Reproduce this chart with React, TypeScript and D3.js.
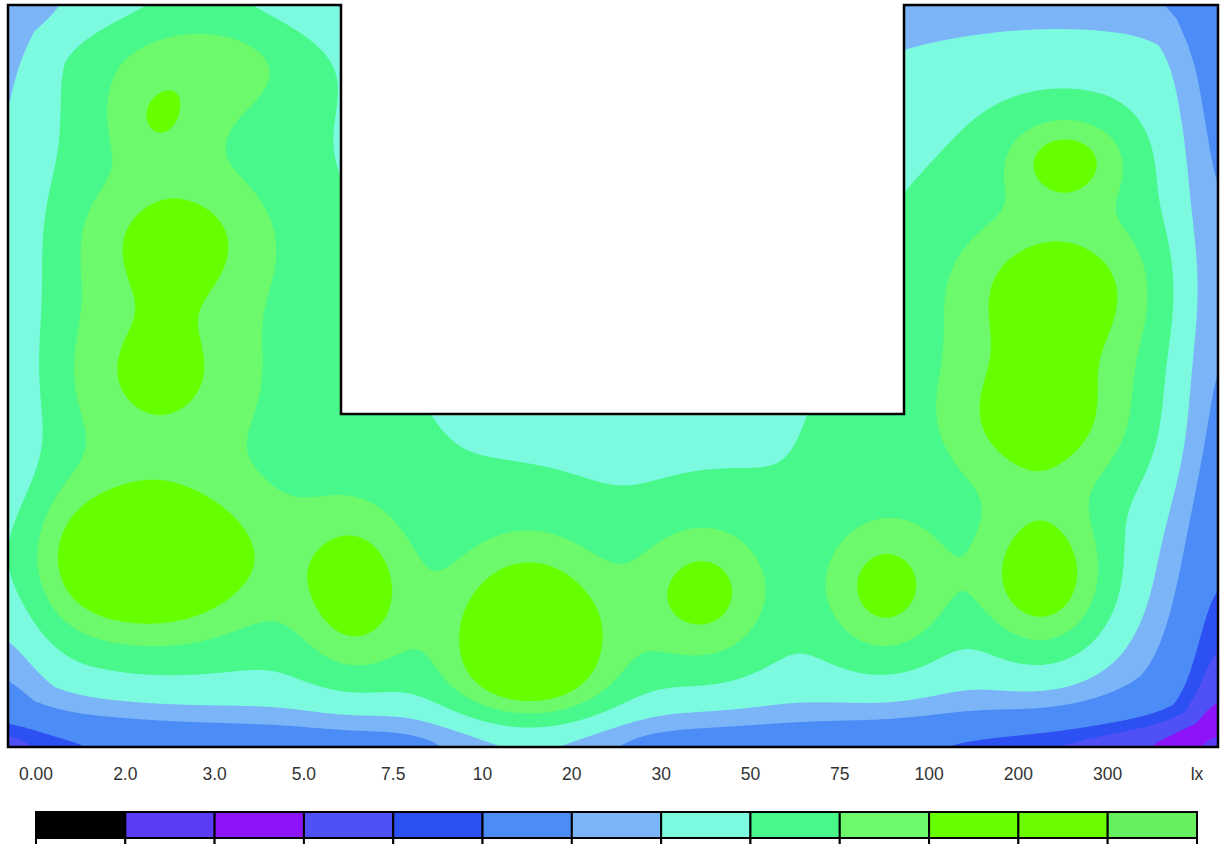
import React, { useMemo } from "react";
import * as d3 from "d3";

// ---- room geometry (metres) ----
const roomWidth = 24.2;
const roomDepth = 14.84;
const cutX0 = 6.66;
const cutX1 = 17.92;
const cutY1 = 8.18;

// ---- luminaires: position (m), direct peak (lx), spread (m), indirect share ----
const lumX = [3.9, 2.95, 3.35, 2.95, 2.6, 6.95, 10.44, 13.9, 17.58, 20.7, 21.0, 20.65, 21.16];
const lumY = [0.8, 2.35, 4.7, 7.4, 11.15, 11.75, 12.9, 11.78, 11.7, 11.5, 5.75, 8.3, 3.1];
const lumA = [48, 28, 50, 45, 100, 65, 110, 63, 67, 84, 60, 62, 58];
const lumSx = [1.6, 0.7, 1.3, 1.3, 1.8, 0.8, 1.15, 0.94, 0.9, 0.9, 1.35, 1.3, 0.8];
const lumSy = [1.1, 0.65, 1.0, 1.1, 1.15, 1.15, 1.4, 1.0, 1.0, 1.05, 1.05, 1.05, 0.6];
const lumF = [15, 15, 17, 16, 18, 12, 13, 21, 7, 0, 19, 15, 30];

// ---- wall attenuation: left, right, top, bottom ----
const wallC = [0.3, 0.55, 0.3, 0.6];
const wallL = [0.9, 1.0, 0.9, 0.9];

// ---- iso levels and legend ----
const levels = [0, 2, 3, 5, 7.5, 10, 20, 30, 50, 75, 100, 200, 300];
const levelColors = [
  "#000000", "#5a3cf7", "#8c14f7", "#5050f7", "#2c50f2", "#4c8cf7",
  "#7cb4f8", "#7cfae0", "#48f88a", "#6cfa6c", "#66ff00", "#6cfa00", "#66f060",
];
const legendLabels = ["0.00", "2.0", "3.0", "5.0", "7.5", "10", "20", "30", "50", "75", "100", "200", "300", "lx"];

const FLOOR_SIGMA = 4.5;
const STEP = 0.04;

function illuminance(x: number, y: number) {
  let direct = 0;
  let indirect = 0;
  for (let k = 0; k < lumX.length; k++) {
    const dx = x - lumX[k];
    const dy = y - lumY[k];
    direct += lumA[k] * Math.exp(-(dx * dx) / (2 * lumSx[k] * lumSx[k]) - (dy * dy) / (2 * lumSy[k] * lumSy[k]));
    indirect += lumF[k] * Math.exp(-(dx * dx + dy * dy) / (2 * FLOOR_SIGMA * FLOOR_SIGMA));
  }
  const raw = direct + indirect;
  const att = (d: number, i: number) => 1 - wallC[i] * Math.exp(-Math.pow(Math.max(d, 0) / wallL[i], 2));
  const wx = att(x, 0) * att(roomWidth - x, 1);
  const wy = att(y, 2) * att(roomDepth - y, 3);
  const w = Math.min(wx, wy) * Math.sqrt(Math.max(wx, wy));
  return raw * w;
}

export default function App() {
  const xScale = d3.scaleLinear().domain([0, roomWidth]).range([8, 1218]);
  const yScale = d3.scaleLinear().domain([0, roomDepth]).range([5, 747]);

  const paths = useMemo(() => {
    const nx = Math.round(roomWidth / STEP);
    const ny = Math.round(roomDepth / STEP);
    const values = new Float64Array(nx * ny);
    for (let j = 0; j < ny; j++) {
      for (let i = 0; i < nx; i++) {
        values[j * nx + i] = illuminance((i + 0.5) * STEP, (j + 0.5) * STEP);
      }
    }
    const contours = d3.contours().size([nx, ny]).thresholds(levels)(Array.from(values));
    const proj = d3.geoTransform({
      point(this: any, gx: number, gy: number) {
        this.stream.point(xScale(gx * STEP), yScale(gy * STEP));
      },
    });
    const gp = d3.geoPath(proj);
    return contours.map((c, i) => ({ d: gp(c as any) || "", color: levelColors[i] }));
  }, []);

  const outline = [
    [0, 0], [cutX0, 0], [cutX0, cutY1], [cutX1, cutY1], [cutX1, 0],
    [roomWidth, 0], [roomWidth, roomDepth], [0, roomDepth],
  ];
  const outlinePath = d3.line<number[]>().x((p) => xScale(p[0])).y((p) => yScale(p[1]))(outline) + "Z";

  const legendX = d3.scaleLinear().domain([0, levelColors.length]).range([36, 1197]);
  const cellW = legendX(1) - legendX(0);

  return (
    <svg width={1220} height={844} style={{ position: "absolute", left: 0, top: 0, background: "#fff" }}>
      <defs>
        <clipPath id="room">
          <path d={outlinePath} />
        </clipPath>
      </defs>
      <rect x={0} y={0} width={1220} height={844} fill="#fff" />
      <g clipPath="url(#room)">
        {paths.map((p, i) => (
          <path key={i} d={p.d} fill={p.color} stroke="none" />
        ))}
      </g>
      <rect
        x={xScale(cutX0)} y={0} width={xScale(cutX1) - xScale(cutX0)} height={yScale(cutY1)}
        fill="#fff"
      />
      <path d={outlinePath} fill="none" stroke="#000" strokeWidth={2.5} />

      {legendLabels.map((t, i) => (
        <text key={t} x={legendX(i)} y={780} textAnchor="middle"
          fontFamily="Liberation Sans, Arial, sans-serif" fontSize={17.5} fill="#333">
          {t}
        </text>
      ))}
      {levelColors.map((c, i) => (
        <rect key={i} x={legendX(i)} y={812} width={cellW} height={26} fill={c} stroke="#000" strokeWidth={2} />
      ))}
      {levelColors.map((c, i) => (
        <rect key={"b" + i} x={legendX(i)} y={838} width={cellW} height={12} fill="#fff" stroke="#000" strokeWidth={2} />
      ))}
    </svg>
  );
}
